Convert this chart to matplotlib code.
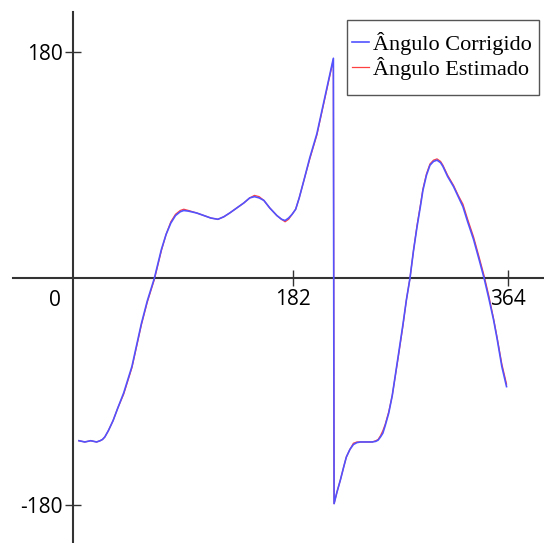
import matplotlib.pyplot as plt
from matplotlib.patches import Rectangle

plt.rcParams['axes.unicode_minus'] = False

# Amostras (indice) e angulos em graus
amostra = [0, 5, 10, 15, 18, 20, 22, 25, 29, 33, 38, 45, 53, 58, 64, 70, 74, 78, 82, 86,
           89, 93, 100, 106, 112, 118, 123, 128, 134, 140, 145, 149, 153, 157, 162, 168,
           172, 175, 178, 181, 184, 187, 191, 196, 202, 209, 216,
           216.6, 219, 222, 225, 227, 230, 233, 236, 239, 244, 249, 252, 254, 256, 258,
           260, 263, 266, 271, 275, 278, 281, 284, 287, 290, 292, 295, 298, 301, 304,
           307, 309, 313, 318, 322, 326, 330, 335, 340, 344, 348, 352, 355, 359, 363]

angulo_corrigido = [-129, -130, -129, -130, -129, -128, -126, -121, -113, -103, -91, -70, -36,
                    -18, 0, 23, 35, 44, 50, 53, 54, 53.5, 52, 50, 48, 47, 49, 52, 56, 60, 64,
                    65, 64, 62, 56, 50, 47, 46, 48, 51, 55, 64, 78, 96, 115, 145, 175,
                    -179, -170, -160, -149, -142, -136, -132, -130.5, -130, -130, -130,
                    -129.5, -128.5, -126, -123, -117, -107, -93, -62, -37, -17, 0, 22, 41,
                    58, 70, 82, 90, 93, 94, 92, 89, 81, 73, 65, 57, 45, 31, 14, 0, -16, -33,
                    -48, -70, -86]

angulo_estimado = [-129, -130, -129, -130, -129, -128, -126, -121, -113, -103, -92, -71, -37,
                   -19, -1, 22, 35, 45, 51, 54, 55, 54, 52, 50, 48, 47, 49, 52, 56, 60, 64,
                   66, 65, 62, 56, 50, 47, 45, 47, 51, 55, 64, 78, 95, 114, 144, 174,
                   -179, -170, -160, -149, -142, -136, -131, -130, -130, -130, -130,
                   -129, -128, -125, -121, -116, -106, -93, -63, -38, -17, 0, 22, 42,
                   59, 71, 83, 91, 94, 95, 93, 90, 82, 74, 66, 59, 47, 33, 16, 2, -14, -32,
                   -47, -68, -84]

W, H = 544, 543
fig = plt.figure(figsize=(W / 100, H / 100), dpi=100)
ax = fig.add_axes([0, 0, 1, 1])

ax.plot(amostra, angulo_estimado, color='#ff4040', lw=0.9, zorder=2, label='Ângulo Estimado')
ax.plot(amostra, angulo_corrigido, color='#5252ff', lw=1.2, zorder=3, label='Ângulo Corrigido')

ax.set_xlim(-67, 394.8)
ax.set_ylim(-210.3, 221.3)

# eixos cruzando na origem
for s in ['top', 'right']:
    ax.spines[s].set_visible(False)
ax.spines['left'].set_position(('data', -4.75))
ax.spines['left'].set_bounds(-211, 211.8)
ax.spines['bottom'].set_position(('data', 0))
ax.spines['bottom'].set_bounds(-55.9, 395)
for s in ['left', 'bottom']:
    ax.spines[s].set_linewidth(1.5)
    ax.spines[s].set_color('#333333')

ax.set_xticks([182, 364])
ax.set_yticks([-180, 180])
ax.tick_params(direction='inout', length=11.5, width=1.0, color='#333333',
               labelsize=15, pad=2)
for lbl in ax.get_xticklabels() + ax.get_yticklabels():
    lbl.set_family('Open Sans')
ax.text(-15, -9, '0', fontsize=15, family='Open Sans', ha='right', va='top')

# caixa da legenda desenhada a parte, legenda sem moldura por cima
ax.add_patch(Rectangle((347 / W, 1 - 95 / H), 192 / W, 75 / H,
                       transform=fig.transFigure, facecolor='white',
                       edgecolor='#555555', lw=1.0, zorder=4, clip_on=False))
handles, labels = ax.get_legend_handles_labels()
leg = ax.legend(handles[::-1], labels[::-1], loc='upper left',
                bbox_to_anchor=(352 / W, 1 - 32 / H),
                prop={'family': 'Liberation Serif', 'size': 16},
                handlelength=0.75, handletextpad=0.2, labelspacing=0.1,
                borderpad=0, borderaxespad=0, frameon=False)
leg.set_zorder(5)

fig.savefig('out.png', dpi=100)
